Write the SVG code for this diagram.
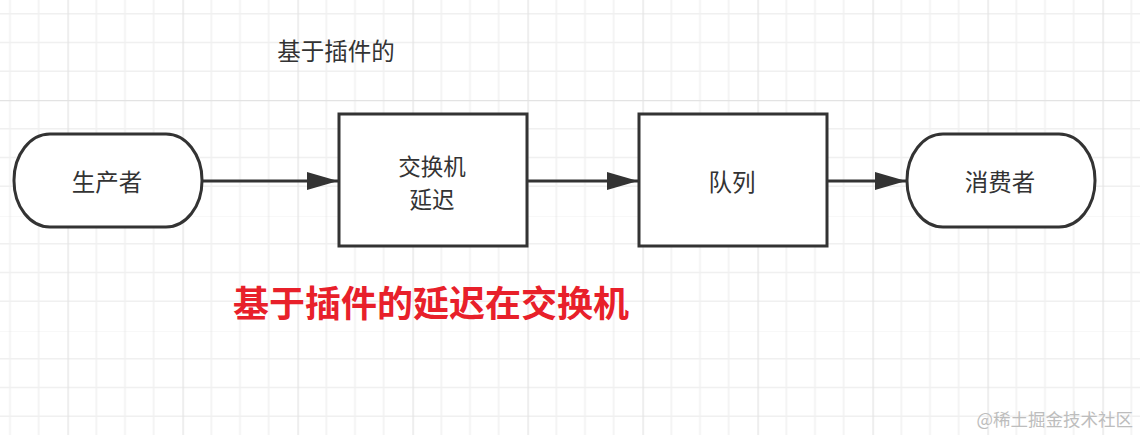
<svg xmlns="http://www.w3.org/2000/svg" width="1140" height="435" viewBox="0 0 1140 435">
<style>
.node{fill:#fff;stroke:#333;stroke-width:3}
.lbl{font-family:"Noto Sans CJK SC","Liberation Sans",sans-serif;font-size:23.5px;fill:#333;text-anchor:middle;dominant-baseline:central}
.edge{stroke:#333;stroke-width:3;fill:none}
</style>
<defs>
<pattern id="grid" x="67.5" y="100" width="115" height="115" patternUnits="userSpaceOnUse">
<path d="M28.75 0V115M57.5 0V115M86.25 0V115M0 28.75H115M0 57.5H115M0 86.25H115" stroke="#f0f0f0" stroke-width="1.5" fill="none"/>
<path d="M0.5 0V115M0 0.5H115" stroke="#e3e3e3" stroke-width="1.5" fill="none"/>
</pattern>
<marker id="arr" markerWidth="32" markerHeight="20" refX="31" refY="9" orient="auto" markerUnits="userSpaceOnUse">
<path d="M0 0L31 9L0 18Z" fill="#333"/>
</marker>
</defs>
<rect width="1140" height="435" fill="#fff"/>
<rect width="1140" height="435" fill="url(#grid)"/>
<text x="336" y="50" class="lbl">基于插件的</text>
<g id="producer">
<rect class="node" x="14" y="134" width="188" height="93" rx="36" ry="46"/>
<text class="lbl" x="107" y="181">生产者</text>
</g>
<g id="exchange">
<rect class="node" x="339" y="114" width="188" height="132"/>
<text class="lbl" x="432" y="165" style="font-size:22.5px">交换机</text>
<text class="lbl" x="432" y="198" style="font-size:22.5px">延迟</text>
</g>
<g id="queue">
<rect class="node" x="639" y="114" width="188" height="132"/>
<text class="lbl" x="732" y="181">队列</text>
</g>
<g id="consumer">
<rect class="node" x="907" y="134" width="188" height="93" rx="36" ry="46"/>
<text class="lbl" x="1000" y="181">消费者</text>
</g>
<g id="connectors">
<path class="edge" d="M202 181H338" marker-end="url(#arr)"/>
<path class="edge" d="M527 181H638" marker-end="url(#arr)"/>
<path class="edge" d="M827 181H906" marker-end="url(#arr)"/>
</g>
<text x="431" y="301" font-family="Noto Sans CJK SC,sans-serif" font-size="36" font-weight="bold" fill="#e8202a" text-anchor="middle" dominant-baseline="central">基于插件的延迟在交换机</text>
<text x="1133" y="418" font-family="Noto Sans CJK SC,sans-serif" font-size="17.5" fill="#bdbdbd" text-anchor="end" dominant-baseline="central">@稀土掘金技术社区</text>
</svg>
